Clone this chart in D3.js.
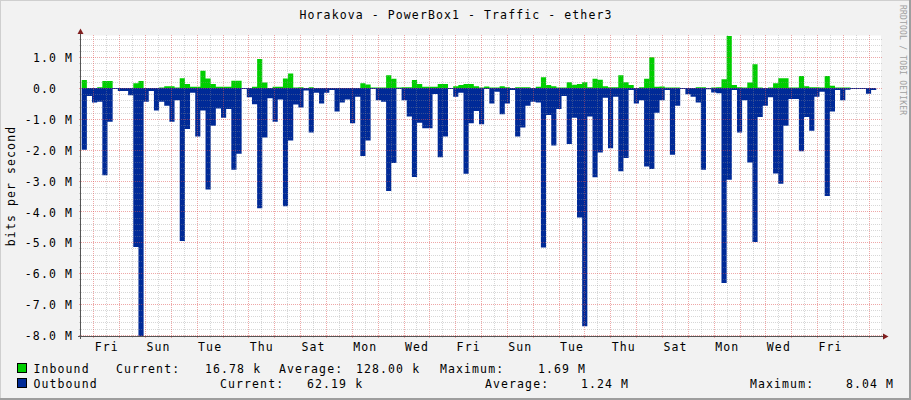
<!DOCTYPE html>
<html><head><meta charset="utf-8">
<script src="https://cdn.jsdelivr.net/npm/d3@7"></script>
<style>
html,body{margin:0;padding:0;background:#f2f2f2;}
svg{display:block;}
text{font-family:"DejaVu Sans Mono",monospace;font-size:11.5px;letter-spacing:1.1px;fill:#000;}
</style></head><body>
<svg id="chart" width="911" height="400"></svg>
<script>
// ---------- data ----------
const title = "Horakova - PowerBox1 - Traffic - ether3";
const yAxisLabel = "bits per second";
const watermark = "RRDTOOL / TOBI OETIKER";
const seriesNames = ["Inbound", "Outbound"];
const seriesColors = ["#00CF00", "#002A97"];
const windowStartUTC = Date.UTC(2023, 5, 1, 12, 35);   // Thu
const windowHours = 742.7;
const firstBinOffsetHours = 0.65;
const binHours = 4.79;
// Mbit/s per consolidation step
const inbound = [
 .26,0,0,.03,.23,.23,0,0,0,0,
 .16,.23,0,0,0,.02,.06,.06,.02,.32,
 .13,.04,.04,.56,.31,.13,.04,.04,.04,.24,
 .24,0,0,.04,.94,.18,0,.04,.04,.31,
 .47,.02,.03,0,.03,0,0,0,0,0,
 0,0,0,0,.16,.12,.02,.02,.02,.42,
 .30,.02,.03,.03,.26,.13,.04,.04,.04,.13,
 .13,0,.06,.10,.13,.13,.06,.02,.05,.02,
 .02,.06,.03,0,.03,.03,.03,0,.04,.35,
 .10,.06,.02,.02,.19,.11,.13,.19,.03,.30,
 .27,.06,.03,.03,.42,.19,.10,0,.03,.30,
 1.00,.04,.05,.02,.02,.02,0,0,0,.03,
 .03,0,.02,.03,.29,1.69,.10,.03,.02,.18,
 .77,.02,0,.02,.16,.32,.32,.02,.02,.39,
 .06,.03,.03,.02,.39,.08,.02,.02,.02,0,
 0,0,0,0
];
const outbound = [
 2.00,.26,.47,.44,2.83,1.09,.03,.09,.09,.23,
 5.15,8.04,.44,.09,.73,.44,.57,1.09,.39,4.96,
 1.33,.15,1.57,.73,3.29,1.22,.66,.96,.68,2.65,
 2.13,.03,.30,.52,3.90,1.60,.33,1.09,.37,3.83,
 1.70,.53,.63,.08,1.44,.15,.50,.15,.06,.76,
 .47,.37,1.14,.28,2.20,1.70,.02,.39,.44,3.34,
 2.43,.02,.39,.92,2.88,1.12,1.30,1.30,.19,2.24,
 1.57,.02,.28,.15,2.78,1.14,.74,1.17,.02,.50,
 .12,.85,.50,.06,1.57,1.28,.57,.44,.47,5.17,
 .87,1.86,.68,.26,1.81,.96,4.20,7.72,.92,2.89,
 2.09,.31,1.95,.28,2.70,2.27,.06,.50,.39,2.54,
 2.62,.80,.39,.06,2.16,.57,.03,.20,.28,.47,
 2.65,.04,.14,.17,6.32,2.97,.06,1.44,.39,2.41,
 4.99,.94,.57,.30,2.77,3.10,1.22,.35,.35,2.05,
 .94,1.38,.28,.12,3.50,.76,.06,.39,.05,.03,
 .03,.03,.18,.06
];
const yTickValues = [1, 0, -1, -2, -3, -4, -5, -6, -7, -8];
const yTickLabels = ["1.0 M", "0.0", "-1.0 M", "-2.0 M", "-3.0 M", "-4.0 M", "-5.0 M", "-6.0 M", "-7.0 M", "-8.0 M"];
const xTickLabels = ["Fri", "Sun", "Tue", "Thu", "Sat", "Mon", "Wed", "Fri", "Sun", "Tue", "Thu", "Sat", "Mon", "Wed", "Fri"];
const firstLabelDayUTC = Date.UTC(2023, 5, 2, 12, 0);   // Fri noon
const statLabels = ["Current:", "Average:", "Maximum:"];
const inboundStats = ["16.78 k", "128.00 k", "1.69 M"];
const outboundStats = ["62.19 k", "1.24 M", "8.04 M"];

// ---------- layout ----------
const W = 911, H = 400;
const plot = {left: 81, right: 881, top: 35.5, bottom: 336};
const svg = d3.select("#chart");
const H3600 = 3600e3;
const start = new Date(windowStartUTC);
const end = new Date(windowStartUTC + windowHours * H3600);

const x = d3.scaleUtc().domain([start, end]).range([plot.left, plot.right]);
const y = d3.scaleLinear().domain([-8.04, 1.69]).range([plot.bottom, 36]);

// background + frame
svg.append("rect").attr("width", W).attr("height", H).attr("fill", "#f2f2f2");
svg.append("path").attr("d", `M0,${H} V0 H${W}`).attr("fill", "none").attr("stroke", "#cfcfcf").attr("stroke-width", 2);
svg.append("path").attr("d", `M0,${H-1} H${W-1} V0`).attr("fill", "none").attr("stroke", "#9e9e9e").attr("stroke-width", 2);

// canvas
svg.append("rect").attr("x", plot.left).attr("y", plot.top)
  .attr("width", plot.right - plot.left).attr("height", plot.bottom - plot.top).attr("fill", "#fff");

// series
const binTime = k => new Date(windowStartUTC + (firstBinOffsetHours + k * binHours) * H3600);
function toPts(arr) {
  const p = arr.map((v, k) => ({t: binTime(k), v}));
  p.push({t: binTime(arr.length), v: arr[arr.length - 1]});
  return p;
}
const clip = svg.append("clipPath").attr("id", "pc").append("rect")
  .attr("x", plot.left).attr("y", plot.top).attr("width", plot.right - plot.left).attr("height", plot.bottom - plot.top);
const g = svg.append("g").attr("clip-path", "url(#pc)");
const y0 = y(0);
g.append("path").datum(toPts(inbound))
  .attr("fill", seriesColors[0])
  .attr("d", d3.area().curve(d3.curveStepAfter).x(d => x(d.t)).y0(y0).y1(d => y(d.v)));
g.append("path").datum(toPts(outbound))
  .attr("fill", seriesColors[1])
  .attr("d", d3.area().curve(d3.curveStepAfter).x(d => x(d.t)).y0(y0 - 0.2).y1(d => Math.max(y(-d.v), y0 + 1)));

// grid (drawn over data, translucent, dotted)
const grid = svg.append("g").attr("shape-rendering", "crispEdges");
const minC = "rgba(143,143,143,0.36)", majC = "rgba(222,79,79,0.5)";
const minorY = d3.range(-40, 9).map(i => i / 5).filter(v => Math.abs(v - Math.round(v)) > 1e-6);
grid.selectAll(".hmin").data(minorY).join("line")
  .attr("x1", plot.left - 2).attr("x2", plot.right + 2)
  .attr("y1", d => Math.round(y(d)) + 0.5).attr("y2", d => Math.round(y(d)) + 0.5)
  .attr("stroke", minC).attr("stroke-dasharray", "1,1");
const noons = d3.utcHour.every(12).range(start, end).filter(d => d.getUTCHours() === 12);
grid.selectAll(".vmin").data(noons).join("line")
  .attr("x1", d => Math.round(x(d)) + 0.5).attr("x2", d => Math.round(x(d)) + 0.5)
  .attr("y1", plot.top - 1).attr("y2", plot.bottom + 2)
  .attr("stroke", minC).attr("stroke-dasharray", "1,1");
grid.selectAll(".hmaj").data(yTickValues).join("line")
  .attr("x1", plot.left - 2).attr("x2", plot.right + 2)
  .attr("y1", d => Math.round(y(d)) + 0.5).attr("y2", d => Math.round(y(d)) + 0.5)
  .attr("stroke", majC).attr("stroke-dasharray", "1,1");
grid.selectAll(".vmaj").data(d3.utcDay.range(start, end)).join("line")
  .attr("x1", d => Math.round(x(d)) + 0.5).attr("x2", d => Math.round(x(d)) + 0.5)
  .attr("y1", plot.top - 1).attr("y2", plot.bottom + 2)
  .attr("stroke", majC).attr("stroke-dasharray", "1,1");

// axes
svg.append("line").attr("x1", plot.left - 3).attr("x2", plot.right + 3).attr("y1", plot.bottom + 0.5).attr("y2", plot.bottom + 0.5)
  .attr("stroke", "#555").attr("shape-rendering", "crispEdges");
svg.append("line").attr("x1", plot.left - 0.5).attr("x2", plot.left - 0.5).attr("y1", plot.bottom + 3).attr("y2", 32)
  .attr("stroke", "#555").attr("shape-rendering", "crispEdges");
svg.append("path").attr("d", `M${plot.left-3.5},34 L${plot.left+2.5},34 L${plot.left-0.5},28.5 Z`).attr("fill", "#801f1f");
svg.append("path").attr("d", `M${plot.right+2},333.5 L${plot.right+2},339.5 L${plot.right+7.5},336.5 Z`).attr("fill", "#801f1f");

// x labels via axis
const labelDates = xTickLabels.map((_, i) => new Date(firstLabelDayUTC + i * 2 * 24 * H3600));
const xa = svg.append("g").attr("transform", `translate(0,${plot.bottom})`)
  .call(d3.axisBottom(x).tickValues(labelDates).tickSize(0).tickPadding(0).tickFormat((d, i) => xTickLabels[i]));
xa.select(".domain").remove();
xa.selectAll("text").attr("y", 15).attr("dy", null).attr("fill", "#000");
xa.attr("font-family", null).attr("font-size", null);

// y labels via axis
const ya = svg.append("g").attr("transform", `translate(73,0)`)
  .call(d3.axisLeft(y).tickValues(yTickValues).tickSize(0).tickPadding(0)
    .tickFormat((d, i) => yTickLabels[i] + (yTickLabels[i].endsWith("M") ? "" : "\u00a0\u00a0")));
ya.select(".domain").remove();
ya.attr("font-family", null).attr("font-size", null);
ya.selectAll("text").attr("x", 0).attr("dy", null).attr("y", 4.6).attr("text-anchor", "end").attr("fill", "#000")
  .style("white-space", "pre");

// title, y label, watermark
svg.append("text").attr("x", 456).attr("y", 19).attr("text-anchor", "middle").text(title);
svg.append("text").attr("transform", "translate(15,186) rotate(-90)").attr("text-anchor", "middle").text(yAxisLabel);
svg.append("text").attr("transform", "translate(900,5) rotate(90)")
  .style("font-size", "8px").style("letter-spacing", "0.2px").style("fill", "#a0a0a0").text(watermark);

// legend
const rows = [
  {name: seriesNames[0], color: seriesColors[0], stats: inboundStats, y: 372.5, lx: [116, 279, 440], vx: [205, 356, 538]},
  {name: seriesNames[1], color: seriesColors[1], stats: outboundStats, y: 387.5, lx: [220, 485, 750], vx: [307, 581, 846]}
];
rows.forEach(r => {
  svg.append("rect").attr("x", 17.5).attr("y", r.y - 9).attr("width", 9).attr("height", 9)
    .attr("fill", r.color).attr("stroke", "#000").attr("stroke-width", 1);
  svg.append("text").attr("x", 33.5).attr("y", r.y).text(r.name);
  statLabels.forEach((s, i) => {
    svg.append("text").attr("x", r.lx[i]).attr("y", r.y).text(s);
    svg.append("text").attr("x", r.vx[i]).attr("y", r.y).text(r.stats[i]);
  });
});
</script>
</body></html>
